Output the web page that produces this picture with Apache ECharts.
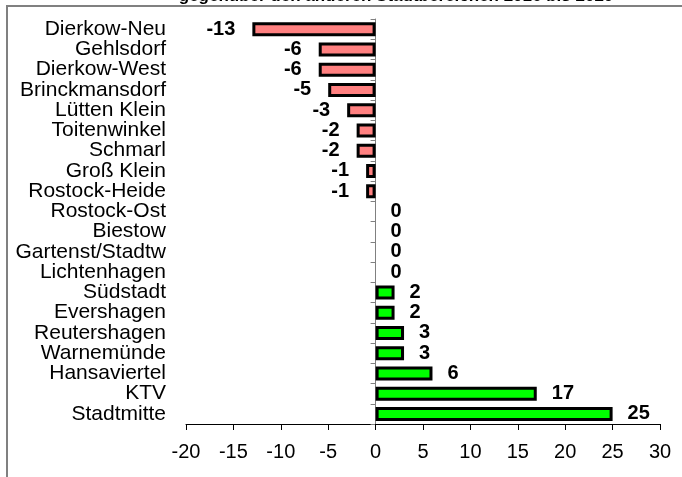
<!DOCTYPE html>
<html><head><meta charset="utf-8">
<script src="https://cdn.jsdelivr.net/npm/echarts@6/dist/echarts.min.js"></script>
<style>html,body{margin:0;padding:0;background:#fff}#c{width:682px;height:477px}</style>
</head><body><div id="c"></div>
<script>
const titleText = 'gegenüber den anderen Stadtbereichen 2016 bis 2020';
const categories = ['Dierkow-Neu','Gehlsdorf','Dierkow-West','Brinckmansdorf','Lütten Klein','Toitenwinkel','Schmarl','Groß Klein','Rostock-Heide','Rostock-Ost','Biestow','Gartenst/Stadtw','Lichtenhagen','Südstadt','Evershagen','Reutershagen','Warnemünde','Hansaviertel','KTV','Stadtmitte'];
const values = [-13,-6,-6,-5,-3,-2,-2,-1,-1,0,0,0,0,2,2,3,3,6,17,25];
const xTicks = {min:-20, max:30, interval:5};

const FONT = '"Liberation Sans", Arial, sans-serif';
const chart = echarts.init(document.getElementById('c'), null, {renderer:'canvas'});
const data = values.map(v => ({
  value: v,
  itemStyle: {color: v < 0 ? '#FF8080' : '#00FF00', borderWidth: v === 0 ? 0 : 3},
  label: {position: v < 0 ? 'left' : 'right', distance: v < 0 ? 17 : 15}
}));
chart.setOption({
  animation: false,
  graphic: [
    {type:'rect', shape:{x:7, y:6, width:700, height:500}, style:{fill:'none', stroke:'#808080', lineWidth:2}, z:0},
    {type:'text', x:396, y:5, style:{text:titleText, font:'bold 17px ' + FONT, fill:'#000', textAlign:'center', textVerticalAlign:'bottom'}}
  ],
  grid: {left:186, right:22, top:19, bottom:53},
  xAxis: {
    type:'value', min:xTicks.min, max:xTicks.max, interval:xTicks.interval,
    splitLine:{show:false},
    axisLine:{show:true, onZero:false, lineStyle:{color:'#000', width:1}},
    axisTick:{show:true, length:6, lineStyle:{color:'#000'}},
    axisLabel:{color:'#000', fontSize:20, fontFamily:FONT, margin:18}
  },
  yAxis: [
    {type:'category', data:categories, inverse:true, position:'left',
     axisLine:{show:false, onZero:false}, axisTick:{show:false},
     axisLabel:{color:'#000', fontSize:21, fontFamily:FONT, margin:20, interval:0}},
    {type:'category', data:categories, inverse:true, position:'left',
     axisLine:{show:true, onZero:true, lineStyle:{color:'#808080', width:1}},
     axisTick:{show:true, length:5, interval:0, lineStyle:{color:'#808080'}},
     axisLabel:{show:false}}
  ],
  series: [{
    type:'bar', yAxisIndex:0, data:data, barWidth:14,
    itemStyle:{borderColor:'#000', borderWidth:3},
    label:{show:true, color:'#000', fontSize:20, fontWeight:'bold', fontFamily:FONT}
  }]
});
</script></body></html>
